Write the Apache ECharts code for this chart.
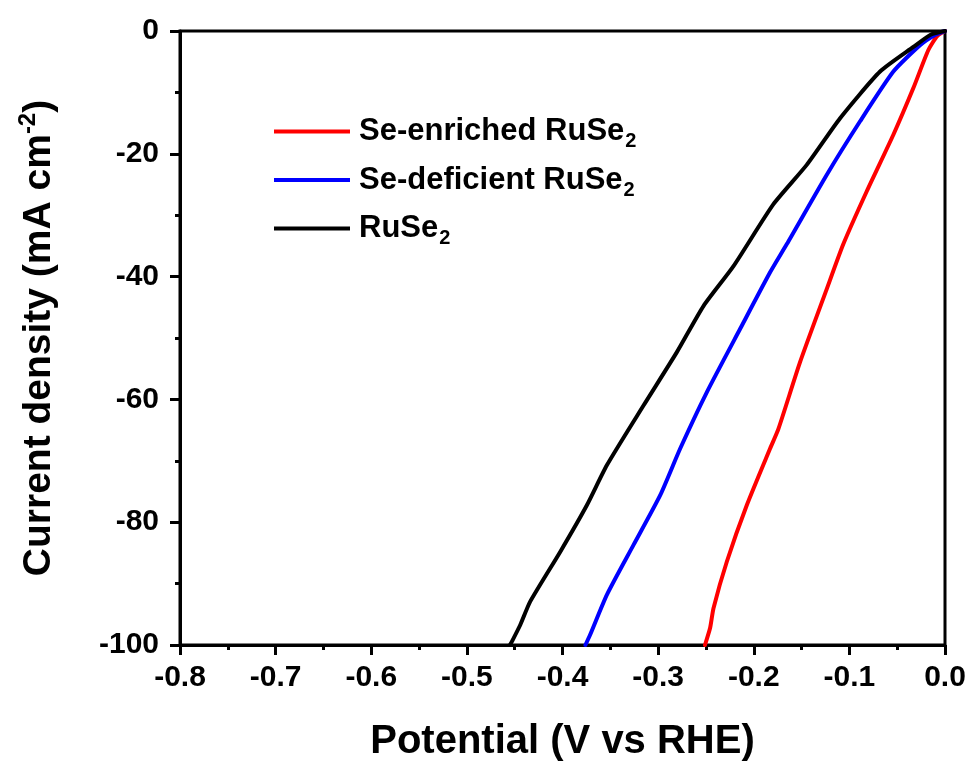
<!DOCTYPE html>
<html>
<head>
<meta charset="utf-8">
<script src="https://cdn.jsdelivr.net/npm/echarts@6/dist/echarts.min.js"></script>
<style>html,body{margin:0;padding:0;background:#fff}#c{width:973px;height:767px}</style>
</head>
<body>
<div id="c"></div>
<script>
// Series data (potential V vs RHE, current density mA cm^-2)
const enrichedX = [-0.2510, -0.2456, -0.2421, -0.2281, -0.2072, -0.1829, -0.1742, -0.1515, -0.1236, -0.1063, -0.0818, -0.0540, -0.0331, -0.0174, -0.0080, 0];
const enrichedY = [-100, -97.2, -94.0, -86.4, -77.2, -68.0, -64.8, -53.9, -42.0, -34.7, -26.1, -16.9, -9.3, -3.1, -0.8, 0];
const deficientX = [-0.3760, -0.3710, -0.3535, -0.3257, -0.2978, -0.2769, -0.2490, -0.2142, -0.1829, -0.1654, -0.1236, -0.0888, -0.0540, -0.0261, -0.0100, 0];
const deficientY = [-100, -98.3, -91.8, -83.7, -75.6, -68.0, -58.8, -48.5, -39.3, -34.7, -23.4, -14.7, -6.6, -2.3, -0.6, 0];
const ruse2X = [-0.4550, -0.4528, -0.4441, -0.4337, -0.4023, -0.3744, -0.3535, -0.3153, -0.2804, -0.2526, -0.2212, -0.1794, -0.1446, -0.1097, -0.0679, -0.0331, -0.0150, 0];
const ruse2Y = [-100, -99.4, -96.7, -92.9, -84.8, -77.2, -70.7, -61.0, -52.3, -44.8, -38.3, -28.2, -21.8, -14.2, -6.6, -2.6, -0.6, 0];

const seriesNames = ['Se-enriched RuSe', 'Se-deficient RuSe', 'RuSe'];
const seriesColors = ['#ff0000', '#0000ff', '#000000'];
const xTicks = [-0.8, -0.7, -0.6, -0.5, -0.4, -0.3, -0.2, -0.1, 0.0];
const yTicks = [-100, -80, -60, -40, -20, 0];

const zip = (xs, ys) => xs.map((x, i) => [x, ys[i]]);
const FONT = '"Liberation Sans", Arial, sans-serif';

const chart = echarts.init(document.getElementById('c'), null, {renderer: 'canvas'});
const lineSeries = (i, xs, ys) => ({
  name: seriesNames[i], type: 'line', data: zip(xs, ys), showSymbol: false,
  smooth: 0.2,
  lineStyle: {width: 4, color: seriesColors[i], join: 'round', cap: 'round'}, itemStyle: {color: seriesColors[i]}
});
const option = {
  backgroundColor: '#fff',
  animation: false,
  grid: {left: 180, top: 31, right: 28, bottom: 120, show: true, borderColor: '#000', borderWidth: 3, backgroundColor: 'transparent'},
  legend: {
    left: 269, top: 111, orient: 'vertical', itemWidth: 76, itemHeight: 4, itemGap: 13,
    icon: 'rect',
    data: seriesNames,
    formatter: name => '{a|' + name + '}{sub|2}',
    textStyle: {
      fontFamily: FONT,
      rich: {
        a: {fontSize: 31, fontWeight: 'bold', color: '#000', fontFamily: FONT, lineHeight: 40, padding: [0, 0, 0, 4]},
        sub: {fontSize: 20, fontWeight: 'bold', color: '#000', fontFamily: FONT, verticalAlign: 'bottom', lineHeight: 40, padding: [12, 0, 0, 1]}
      }
    }
  },
  xAxis: {
    type: 'value', min: -0.8, max: 0, interval: 0.1,
    axisLine: {show: true, onZero: false, lineStyle: {color: '#000', width: 3}},
    axisTick: {show: true, inside: false, length: 10, lineStyle: {color: '#000', width: 3}},
    minorTick: {show: true, splitNumber: 2, length: 5, lineStyle: {color: '#000', width: 3}},
    splitLine: {show: false},
    axisLabel: {
      margin: 18, color: '#000', fontSize: 30, fontWeight: 'bold', fontFamily: FONT,
      formatter: v => {
        const t = xTicks.find(k => Math.abs(k - v) < 1e-6);
        return t === undefined ? '' : t.toFixed(1);
      }
    },
    name: 'Potential (V vs RHE)', nameLocation: 'middle', nameGap: 77,
    nameTextStyle: {color: '#000', fontSize: 40, fontWeight: 'bold', fontFamily: FONT}
  },
  yAxis: {
    type: 'value', min: -100, max: 0, interval: 20,
    axisLine: {show: true, onZero: false, lineStyle: {color: '#000', width: 3}},
    axisTick: {show: true, inside: false, length: 10, lineStyle: {color: '#000', width: 3}},
    minorTick: {show: true, splitNumber: 2, length: 5, lineStyle: {color: '#000', width: 3}},
    splitLine: {show: false},
    axisLabel: {
      margin: 21, color: '#000', fontSize: 30, fontWeight: 'bold', fontFamily: FONT,
      formatter: v => {
        const t = yTicks.find(k => Math.abs(k - v) < 1e-6);
        return t === undefined ? '' : String(t);
      }
    },
    name: '{a|Current density (mA cm}{sup|-2}{a|)}', nameLocation: 'middle', nameGap: 118,
    nameTextStyle: {
      color: '#000', fontFamily: FONT,
      rich: {
        a: {fontSize: 39, fontWeight: 'bold', color: '#000', fontFamily: FONT, lineHeight: 46},
        sup: {fontSize: 24, fontWeight: 'bold', color: '#000', fontFamily: FONT, verticalAlign: 'top', lineHeight: 46, padding: [0, 0, 18, 0]}
      }
    }
  },
  series: [
    lineSeries(0, enrichedX, enrichedY),
    lineSeries(1, deficientX, deficientY),
    lineSeries(2, ruse2X, ruse2Y)
  ]
};
chart.setOption(option);
</script>
</body>
</html>
